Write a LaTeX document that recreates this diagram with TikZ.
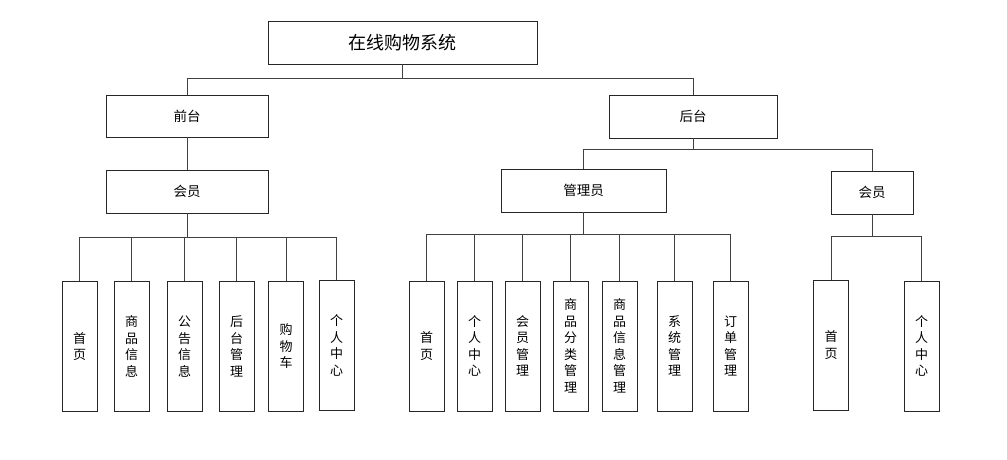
\documentclass[tikz,border=0pt]{standalone}
\usepackage{fontspec}
\newfontfamily\cjk{Noto Sans CJK SC}
\begin{document}
\begin{tikzpicture}[x=1pt,y=-1pt,
  box/.style={draw=black!85, line width=0.95pt, fill=white, inner sep=0pt, align=center},
  hbox/.style={box, font=\cjk\fontsize{13.5}{16}\selectfont},
  leaf/.style={box, minimum width=35pt, minimum height=130pt, text width=14pt,
    font=\cjk\fontsize{13}{16.5}\selectfont},
  conn/.style={draw=black!75, line width=0.95pt}]
\useasboundingbox[fill=white] (0,0) rectangle (1007,459);
% top levels
\node[box, minimum width=269pt, minimum height=43pt, font=\cjk\fontsize{18}{20}\selectfont] (root) at (402.5,42.5) {在线购物系统};
\node[hbox, minimum width=162pt, minimum height=42pt] (qt) at (187,116) {前台};
\node[hbox, minimum width=168pt, minimum height=43pt] (ht) at (693,116.5) {后台};
\node[hbox, minimum width=162pt, minimum height=43pt] (hyL) at (187,191.5) {会员};
\node[hbox, minimum width=165pt, minimum height=43pt] (gly) at (583.5,190.5) {管理员};
\node[hbox, minimum width=82pt, minimum height=43pt] (hyR) at (872,192.5) {会员};
% left leaves
\node[leaf] (l1) at (79.5,346.5) {首\\页};
\node[leaf] (l2) at (131.5,346.5) {商\\品\\信\\息};
\node[leaf] (l3) at (184.5,346.5) {公\\告\\信\\息};
\node[leaf] (l4) at (236.5,346.5) {后\\台\\管\\理};
\node[leaf] (l5) at (286,346.5) {购\\物\\车};
\node[leaf] (l6) at (336.5,345.5) {个\\人\\中\\心};
% middle leaves
\node[leaf] (m1) at (426.5,346) {首\\页};
\node[leaf] (m2) at (474.5,346) {个\\人\\中\\心};
\node[leaf] (m3) at (522.5,346) {会\\员\\管\\理};
\node[leaf] (m4) at (570.5,346) {商\\品\\分\\类\\管\\理};
\node[leaf] (m5) at (619.5,346) {商\\品\\信\\息\\管\\理};
\node[leaf] (m6) at (674.5,346) {系\\统\\管\\理};
\node[leaf] (m7) at (730.5,346) {订\\单\\管\\理};
% right leaves
\node[leaf] (r1) at (831,345) {首\\页};
\node[leaf] (r2) at (921.5,346) {个\\人\\中\\心};
% connectors
\coordinate (b0) at (0,78);
\coordinate (b1) at (0,237);
\coordinate (b2) at (0,149);
\coordinate (b3) at (0,234);
\coordinate (b4) at (0,236);
\path[conn] (root.south) -- (root.south |- b0);
\path[conn] (qt.north) -- (qt.north |- b0) -- (ht.north |- b0) -- (ht.north);
\path[conn] (qt.south) -- (hyL.north);
\path[conn] (hyL.south) -- (hyL.south |- b1);
\path[conn] (l1.north) -- (l1.north |- b1) -- (l6.north |- b1) -- (l6.north);
\foreach \n in {l2,l3,l4,l5} \path[conn] (\n.north) -- (\n.north |- b1);
\path[conn] (ht.south) -- (ht.south |- b2);
\path[conn] (gly.north) -- (gly.north |- b2) -- (hyR.north |- b2) -- (hyR.north);
\path[conn] (gly.south) -- (gly.south |- b3);
\path[conn] (m1.north) -- (m1.north |- b3) -- (m7.north |- b3) -- (m7.north);
\foreach \n in {m2,m3,m4,m5,m6} \path[conn] (\n.north) -- (\n.north |- b3);
\path[conn] (hyR.south) -- (hyR.south |- b4);
\path[conn] (r1.north) -- (r1.north |- b4) -- (r2.north |- b4) -- (r2.north);
\end{tikzpicture}
\end{document}
